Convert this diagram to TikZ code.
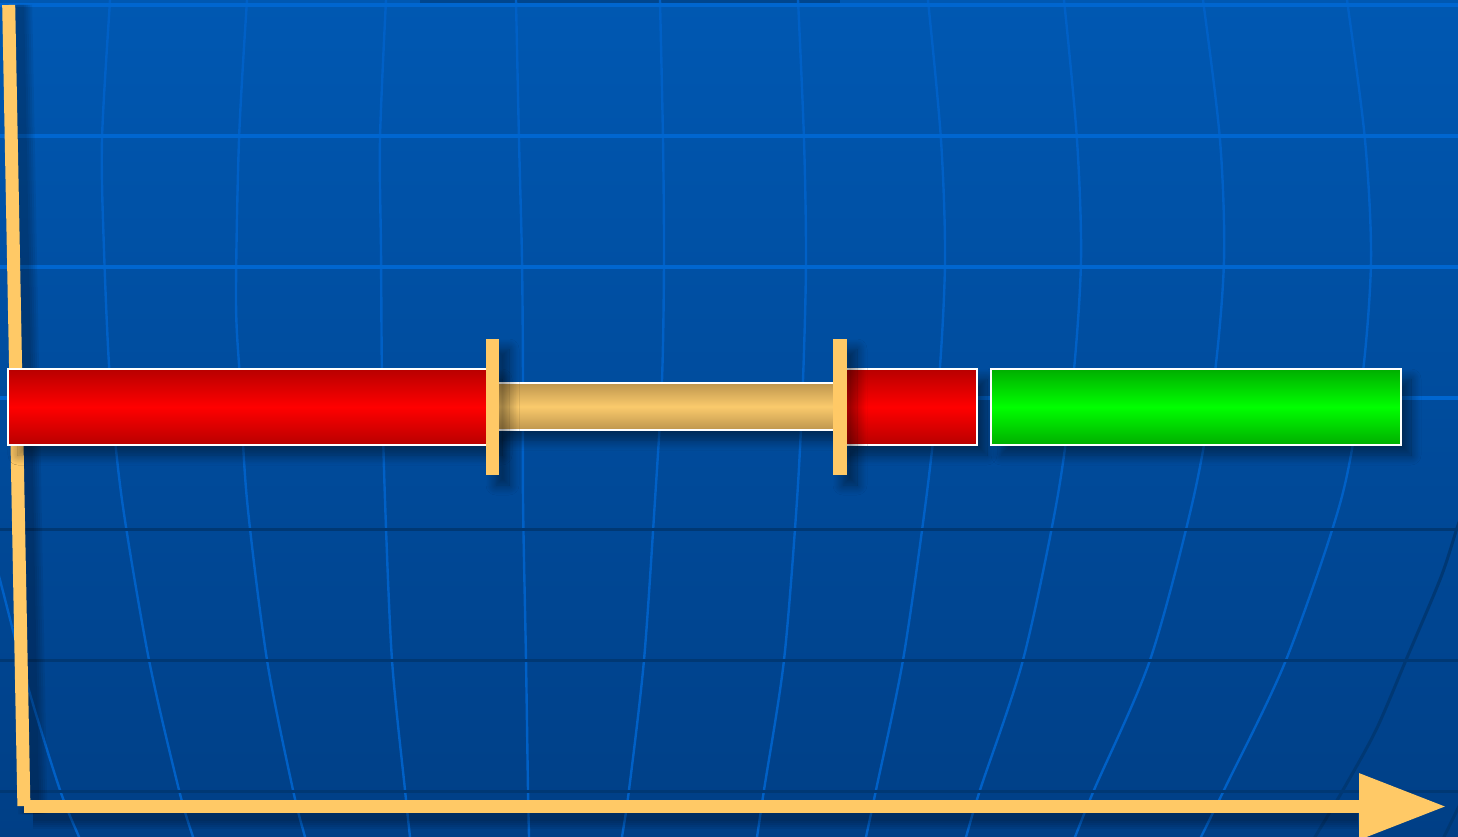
\documentclass[tikz,border=0pt]{standalone}
\usetikzlibrary{arrows.meta,shadows.blur}
\definecolor{bgtop}{RGB}{0,88,178}
\definecolor{bgbot}{RGB}{0,63,134}
\definecolor{gridlt}{RGB}{0,102,208}
\definecolor{gridvl}{RGB}{0,96,198}
\definecolor{griddk}{RGB}{0,56,116}
\definecolor{axiscol}{RGB}{255,201,102}
\definecolor{redhi}{RGB}{255,0,0}
\definecolor{redlo}{RGB}{184,0,0}
\definecolor{grnhi}{RGB}{0,255,0}
\definecolor{grnlo}{RGB}{0,174,0}
\definecolor{tanhi}{RGB}{250,202,108}
\definecolor{tanlo}{RGB}{190,150,78}
\begin{document}
\begin{tikzpicture}[x=1pt,y=-1pt,
  hline/.style={gridlt,line width=3.5pt},
  dline/.style={griddk,line width=3pt},
  vline/.style={gridvl,line width=2.4pt},
  dcurve/.style={griddk,line width=3pt},
  softshadow/.style={blur shadow={shadow xshift=10pt,shadow yshift=-10pt,shadow blur radius=10pt,shadow blur steps=12,shadow opacity=45}},
  barbox/.style={rectangle,draw=white,line width=1.8pt,inner sep=0pt,outer sep=0pt,anchor=north west,minimum height=76pt,softshadow},
  redbar/.style={barbox,top color=redlo,bottom color=redlo,middle color=redhi},
  greenbar/.style={barbox,top color=grnlo,bottom color=grnlo,middle color=grnhi},
  tanbar/.style={barbox,minimum height=47pt,top color=tanlo,bottom color=tanlo,middle color=tanhi},
  tickmark/.style={rectangle,fill=axiscol,inner sep=0pt,outer sep=0pt,minimum width=13pt,minimum height=136pt,anchor=north,softshadow},
  axisline/.style={axiscol,line width=13pt},
  axshadow/.style={black,opacity=0.06,line width=#1}
]
\useasboundingbox (0,0) rectangle (1458,837);
\fill[top color=bgtop,bottom color=bgbot] (0,0) rectangle (1458,837);
\begin{scope}
\clip (0,0) rectangle (1458,837);
% top shadow band
\fill[griddk,opacity=0.55] (420,-2) rectangle (840,3.5);
% curved meridians
\draw[vline] plot[smooth] coordinates {(110,-5) (110,0) (102,140) (104,250) (110,380) (122,500) (149,660) (179,790) (193,837) (196,845)};
\draw[vline] plot[smooth] coordinates {(248,-5) (247,0) (239,140) (236,300) (240,380) (247,500) (267,660) (293,790) (305,837) (307,845)};
\draw[vline] plot[smooth] coordinates {(387,-5) (386,0) (380,140) (381,250) (382,380) (385,500) (392,660) (405,790) (410,837) (411,845)};
\draw[vline] plot[smooth] coordinates {(516,-5) (516,0) (519,140) (522,260) (523,380) (523,500) (526,660) (528,790) (529,837) (529,845)};
\draw[vline] plot[smooth] coordinates {(660,-5) (660,0) (663,140) (664,260) (662,380) (655,500) (644,660) (629,790) (622,837) (621,845)};
\draw[vline] plot[smooth] coordinates {(797,-5) (798,0) (804,140) (806,260) (803,380) (797,500) (784,660) (764,790) (757,837) (755,845)};
\draw[vline] plot[smooth] coordinates {(927,-5) (928,0) (941,140) (945,260) (939,380) (926,500) (903,660) (876,790) (866,837) (864,845)};
\draw[vline] plot[smooth] coordinates {(1062,-5) (1064,0) (1077,140) (1081,260) (1073,380) (1057,500) (1023,660) (980,790) (966,837) (963,845)};
\draw[vline] plot[smooth] coordinates {(1201,-5) (1203,0) (1220,140) (1224,260) (1214,380) (1193,500) (1150,660) (1094,790) (1075,837) (1072,845)};
\draw[vline] plot[smooth] coordinates {(1345,-5) (1347,0) (1365,140) (1371,260) (1362,380) (1341,500) (1286,660) (1224,790) (1201,837) (1197,845)};
\draw[vline] plot[smooth] coordinates {(-6,560) (0,580) (28,687) (60,790) (79,837) (82,845)};
\draw[dcurve] plot[smooth] coordinates {(1466,505) (1458,525) (1441,577) (1406,660) (1376,730) (1343,790) (1315,837) (1311,845)};
\draw[dcurve] (1440,845) -- (1462,800);
% parallels
\foreach \yy in {5,136,267,398} \draw[hline] (0,\yy) -- (1458,\yy);
\foreach \yy in {529,660,791} \draw[dline] (0,\yy) -- (1458,\yy);
\end{scope}
% axes
\coordinate (ytop) at (8.7,5);
\coordinate (ybot) at (23.9,806);
\coordinate (origin) at (24,806.5);
\coordinate (xbase) at (1358,806.5);
\coordinate (xtip) at (1446,806.5);
\foreach \w in {13,17,21,25,29} {
  \draw[axshadow=\w pt] ([shift={(9,0)}]ytop) -- ([shift={(9,8)}]ybot);
  \draw[axshadow=\w pt] ([shift={(9,8)}]origin) -- ([shift={(0,8)}]xbase);
}
\draw[axisline] (ytop) -- (ybot);
\draw[axisline,-{Triangle[length=87pt,width=63pt]}] (origin) -- (xtip);
% bars
\node[redbar,minimum width=484pt] (r1) at (8,369) {};
\node[tanbar,minimum width=348pt] (t1) at (492,383) {};
\node[redbar,minimum width=137pt] (r2) at (840,369) {};
\node[greenbar,minimum width=410pt] (g1) at (991,369) {};
\node[tickmark] (k1) at (492.5,339) {};
\node[tickmark,minimum width=14pt] (k2) at (840,339) {};
\end{tikzpicture}
\end{document}
